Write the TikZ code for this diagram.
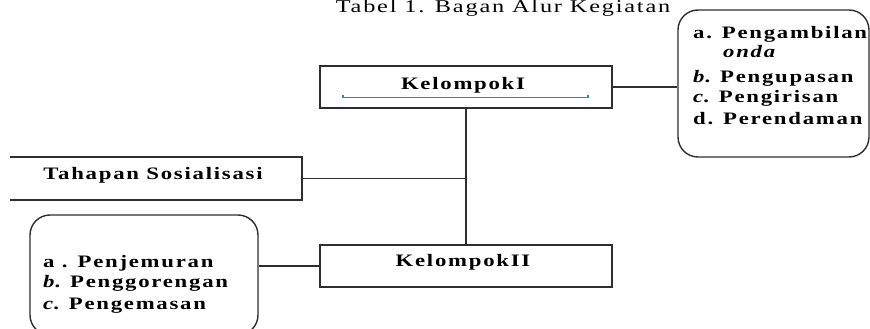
\documentclass[tikz,border=0pt]{standalone}
\usepackage{fontspec}
\setmainfont{Liberation Serif}
\newfontfamily\wide[FakeStretch=1.3,LetterSpace=10]{Liberation Serif}
\newfontfamily\widetitle[FakeStretch=1.35,LetterSpace=10]{Liberation Serif}
\definecolor{lin}{HTML}{2E2E2E}
\definecolor{grn}{HTML}{00B050}
\begin{document}
\begin{tikzpicture}[x=1pt,y=-1pt,
  box/.style={draw=lin, line width=1.6pt, minimum width=292pt, minimum height=42pt, inner sep=0pt},
  rbox/.style={draw=lin, line width=1.4pt, rounded corners=20pt, inner sep=0pt},
  conn/.style={draw=lin, line width=1.4pt},
  lbl/.style={font=\wide\fontsize{17.5}{20}\selectfont\bfseries, text=black, inner sep=0pt},
  item/.style={lbl, anchor=base west}
]
\useasboundingbox (0,0) rectangle (870,329);
% title
\node[font=\widetitle\fontsize{18}{20}\selectfont, anchor=base, inner sep=0pt] (title) at (503,12.5) {Tabel 1. Bagan Alur Kegiatan};
% Kelompok I
\node[box] (k1) at (466,87) {};
\node[lbl, anchor=base] (k1t) at (463,89) {KelompokI};
\draw[grn, line width=1.6pt] (343,94.5) -- (343,97.5) -- (588,97.5) -- (588,94.5);
% right rounded box
\node[rbox, minimum width=191pt, minimum height=147pt] (rb) at (773.5,83.5) {};
\node[item] (r1) at (693,39) {a. Pengambilan};
\node[item] (r2) at (723,58) {\itshape onda};
\node[item] (r3) at (693,82) {{\itshape b}. Pengupasan};
\node[item] (r4) at (693,102) {{\itshape c}. Pengirisan};
\node[item] (r5) at (693,124) {d. Perendaman};
% Tahapan Sosialisasi
\node[minimum width=292pt, minimum height=43pt, inner sep=0pt] (tah) at (156,178.5) {};
\draw[lin, line width=1.6pt] (tah.north west) -- (tah.north east) -- (tah.south east) -- (tah.south west);
\node[lbl, anchor=base] (taht) at (153,179) {Tahapan Sosialisasi};
% Kelompok II
\node[box] (k2) at (466,266) {};
\node[lbl, anchor=base] (k2t) at (463,266) {KelompokII};
% left rounded box
\node[rbox, minimum width=228pt, minimum height=120pt] (lb) at (144,275) {};
\node[item] (l1) at (43,267) {a . Penjemuran};
\node[item] (l2) at (43,287) {{\itshape b}. Penggorengan};
\node[item] (l3) at (43,309) {{\itshape c}. Pengemasan};
% connectors
\draw[conn] (k1.east) -- (k1.east -| rb.west);
\draw[conn] (k1.south) -- (k2.north);
\draw[conn] (tah.east) -- (tah.east -| k1.south);
\draw[conn] (k2.west) -- (k2.west -| lb.east);
\end{tikzpicture}
\end{document}
